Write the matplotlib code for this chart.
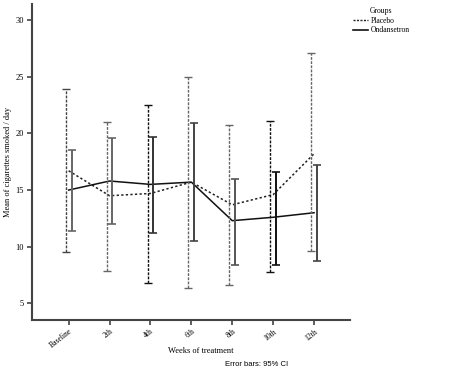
import matplotlib
matplotlib.use('Agg')
import matplotlib.pyplot as plt
from matplotlib.lines import Line2D

weeks = ['Baseline', '2th', '4th', '6th', '8th', '10th', '12th']

placebo_mean = [16.7, 14.5, 14.7, 15.7, 13.7, 14.6, 18.2]
placebo_low = [9.5, 7.9, 6.8, 6.4, 6.6, 7.8, 9.6]
placebo_high = [23.9, 21.0, 22.5, 25.0, 20.7, 21.1, 27.1]

ondansetron_mean = [15.0, 15.8, 15.5, 15.7, 12.3, 12.6, 13.0]
ondansetron_low = [11.4, 12.0, 11.2, 10.5, 8.4, 8.4, 8.7]
ondansetron_high = [18.5, 19.6, 19.7, 20.9, 16.0, 16.6, 17.2]

# grey/black look of the original rendering
placebo_colors = ['#444444', '#666666', '#111111', '#666666', '#666666', '#111111', '#666666']
ondansetron_colors = ['#666666', '#666666', '#333333', '#444444', '#555555', '#111111', '#444444']

serif = 'Liberation Serif'

fig = plt.figure(figsize=(4.68, 3.75), dpi=100)
ax = fig.add_axes([0.068, 0.147, 0.68, 0.842])

x = list(range(len(weeks)))
ax.plot(x, placebo_mean, color='#222222', linestyle=(0, (1.5, 1.5)), lw=1.1)
ax.plot(x, ondansetron_mean, color='#111111', linestyle='-', lw=1.1)

for i in x:
    m = placebo_mean[i]
    ax.errorbar(i - 0.07, m, yerr=[[m - placebo_low[i]], [placebo_high[i] - m]],
                fmt='none', ecolor=placebo_colors[i], elinewidth=1.0, capsize=3,
                capthick=1.0)
    m = ondansetron_mean[i]
    ax.errorbar(i + 0.07, m, yerr=[[m - ondansetron_low[i]], [ondansetron_high[i] - m]],
                fmt='none', ecolor=ondansetron_colors[i], elinewidth=1.4, capsize=3,
                capthick=1.2)

# placebo error bars are dashed
for coll in ax.collections[0::2]:
    coll.set_linestyle((0, (2, 1)))

ax.set_xlim(-0.9, 6.88)
ax.set_ylim(3.55, 31.4)
ax.set_yticks([5, 10, 15, 20, 25, 30])
ax.set_xticks(x)
ax.set_xticklabels(weeks, rotation=38, ha='right', rotation_mode='anchor',
                   fontsize=5.5, family=serif)
for lab in ax.get_yticklabels():
    lab.set_family(serif)
    lab.set_fontsize(6)
ax.tick_params(axis='both', length=3.5, width=1.2, color='#444444', pad=2)

for side in ['top', 'right']:
    ax.spines[side].set_visible(False)
for side in ['left', 'bottom']:
    ax.spines[side].set_linewidth(1.5)
    ax.spines[side].set_color('#444444')

ax.set_ylabel('Mean of cigarettes smoked / day', fontsize=6, family=serif)
ax.yaxis.set_label_coords(-0.063, 0.5)
ax.set_xlabel('Weeks of treatment', fontsize=6, family=serif)
ax.xaxis.set_label_coords(0.53, -0.085)

fig.text(0.549, 0.027, 'Error bars: 95% CI', fontsize=5.5, family='Liberation Sans',
         ha='center', va='center')

handles = [Line2D([], [], color='#222222', linestyle=(0, (1.5, 1)), lw=1.0),
           Line2D([], [], color='#111111', linestyle='-', lw=1.2)]
leg = fig.legend(handles, ['Placebo', 'Ondansetron'], title='Groups',
                 loc='upper left', bbox_to_anchor=(0.742, 0.995), frameon=False,
                 prop={'family': serif, 'size': 5.5}, handlelength=2.0,
                 handletextpad=0.4, labelspacing=0.2, borderpad=0.2)
leg.get_title().set_fontfamily(serif)
leg.get_title().set_fontsize(5.5)

fig.savefig('out.png', dpi=100)
